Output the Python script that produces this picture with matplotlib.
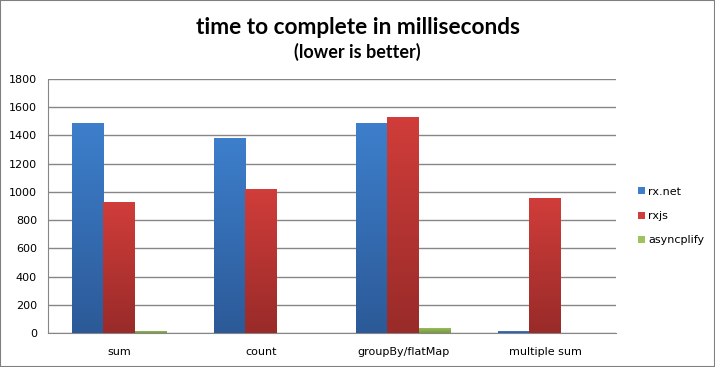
import numpy as np
import matplotlib
matplotlib.use('Agg')
import matplotlib.pyplot as plt
from matplotlib.colors import LinearSegmentedColormap
from matplotlib.patches import Rectangle

categories = ['sum', 'count', 'groupBy/flatMap', 'multiple sum']
series = ['rx.net', 'rxjs', 'asyncplify']
rx_net = [1490, 1385, 1490, 14]
rxjs = [925, 1020, 1532, 958]
asyncplify = [17, 0, 36, 0]
yticks = [0, 200, 400, 600, 800, 1000, 1200, 1400, 1600, 1800]

# (top colour, bottom colour) per series, like the Excel gradient fill
colors = [('#3d7fcc', '#2c5a98'), ('#d03d3a', '#992b29'), ('#9ec25c', '#779a42')]


def gradient_bar(ax, patch, top, bottom):
    x, y = patch.get_x(), patch.get_y()
    w, h = patch.get_width(), patch.get_height()
    if h <= 0:
        return
    cmap = LinearSegmentedColormap.from_list('g', [bottom, top])
    grad = np.linspace(0, 1, 64).reshape(-1, 1)
    im = ax.imshow(grad, extent=(x, x + w, y, y + h), origin='lower', aspect='auto',
                   cmap=cmap, zorder=3, interpolation='bilinear')
    im.set_clip_path(patch)


def main() -> None:
    fig = plt.figure(figsize=(7.15, 3.67), dpi=100)
    ax = fig.add_axes([48 / 715, 34 / 367, 568 / 715, 254 / 367])

    data = [rx_net, rxjs, asyncplify]
    x = np.arange(len(categories))
    width = 1 / 4.5
    for i, (vals, name) in enumerate(zip(data, series)):
        bars = ax.bar(x + (i - 1) * width, vals, width, color=colors[i][0], label=name,
                      zorder=2, linewidth=0)
        for b in bars:
            gradient_bar(ax, b, *colors[i])

    ax.set_xlim(-0.5, len(categories) - 0.5)
    ax.set_ylim(0, 1800)
    ax.set_yticks(yticks)
    ax.set_xticks(x)
    ax.set_xticklabels(categories)
    ax.yaxis.grid(True, color='#868686', linewidth=1)
    ax.set_axisbelow(True)
    for s in ['top', 'right']:
        ax.spines[s].set_visible(False)
    for s in ['left', 'bottom']:
        ax.spines[s].set_color('#868686')
    ax.tick_params(axis='both', length=0, labelsize=8, colors='black')
    ax.tick_params(axis='y', pad=8)
    ax.tick_params(axis='x', pad=10)

    fig.text(0.5, 1 - 27 / 367, 'time to complete in milliseconds', ha='center', va='center',
             fontsize=16.3, fontweight='bold', family='Lato')
    fig.text(0.5, 1 - 52 / 367, '(lower is better)', ha='center', va='center',
             fontsize=13, fontweight='bold', family='Lato')

    ax.legend(loc='center left', bbox_to_anchor=(628 / 715, 1 - 216 / 367),
              bbox_transform=fig.transFigure, frameon=False, fontsize=8,
              handlelength=0.6, handleheight=0.6, handletextpad=0.3, labelspacing=1.3)

    fig.patches.append(Rectangle((0, 0), 1, 1, transform=fig.transFigure, fill=False,
                                 edgecolor='#7f7f7f', linewidth=1.5))

    fig.savefig('out.png', dpi=100)


if __name__ == '__main__':
    main()
